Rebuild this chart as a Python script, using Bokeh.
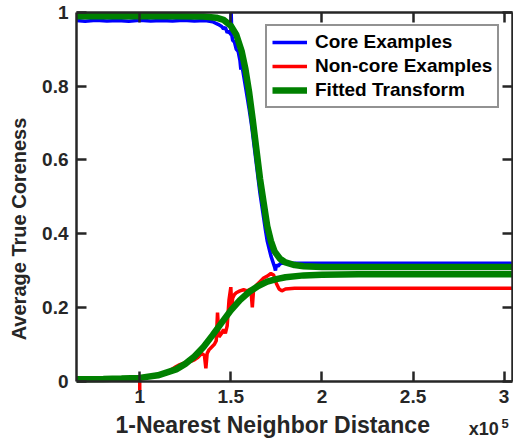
from bokeh.plotting import figure
from bokeh.models import Range1d, FixedTicker, LinearAxis, Legend, LegendItem, Label
from bokeh.embed import file_html
from bokeh.resources import INLINE

# x values are in units of 1e5 (axis shows "x10^5")
x_ticks = [1, 1.5, 2, 2.5, 3]
x_tick_labels = ["1", "1.5", "2", "2.5", "3"]
y_ticks = [0, 0.2, 0.4, 0.6, 0.8, 1]
y_tick_labels = ["0", "0.2", "0.4", "0.6", "0.8", "1"]
x_min, x_max = 0.653, 3.046
y_min, y_max = 0.0, 1.0

core_x = [0.653, 0.70, 0.76, 0.82, 0.88, 0.94, 1.00, 1.06, 1.12, 1.18, 1.24, 1.30, 1.36, 1.40,
          1.43, 1.45, 1.46, 1.47, 1.48, 1.49, 1.50, 1.502, 1.505, 1.51, 1.52, 1.53, 1.54, 1.55,
          1.555, 1.56, 1.57, 1.58, 1.59, 1.60, 1.615, 1.63, 1.645, 1.66, 1.675, 1.69, 1.70, 1.71,
          1.72, 1.73, 1.74, 1.745, 1.75, 1.76, 1.77, 1.78, 1.80, 1.85, 1.90, 2.0, 2.2, 2.5, 2.8, 3.046]
core_y = [0.978, 0.976, 0.979, 0.977, 0.978, 0.976, 0.979, 0.977, 0.978, 0.977, 0.979, 0.977, 0.978, 0.975,
          0.968, 0.962, 0.955, 0.960, 0.945, 0.950, 0.940, 1.000, 0.940, 0.925, 0.920, 0.900, 0.895, 0.870,
          0.845, 0.860, 0.830, 0.800, 0.770, 0.740, 0.690, 0.630, 0.570, 0.510, 0.460, 0.410, 0.380, 0.360,
          0.340, 0.325, 0.310, 0.300, 0.315, 0.312, 0.318, 0.320, 0.320, 0.320, 0.320, 0.320, 0.320, 0.320, 0.320, 0.320]

noncore_x = [1.0, 1.0, 1.003, 1.05, 1.1, 1.15, 1.2, 1.22, 1.25, 1.28, 1.3, 1.32, 1.34, 1.355, 1.363,
             1.37, 1.38, 1.39, 1.41, 1.42, 1.427, 1.435, 1.45, 1.46, 1.47, 1.48, 1.49, 1.5, 1.505,
             1.51, 1.52, 1.53, 1.55, 1.57, 1.59, 1.61, 1.618, 1.625, 1.64, 1.66, 1.68, 1.7, 1.72,
             1.735, 1.75, 1.765, 1.78, 1.8, 1.85, 2.0, 2.5, 3.046]
noncore_y = [-0.025, 0.012, 0.012, 0.013, 0.018, 0.024, 0.040, 0.045, 0.050, 0.054, 0.058, 0.065, 0.075, 0.070, 0.035,
             0.075, 0.085, 0.090, 0.100, 0.110, 0.186, 0.120, 0.130, 0.140, 0.130, 0.150, 0.220, 0.255, 0.200,
             0.225, 0.235, 0.240, 0.245, 0.248, 0.245, 0.250, 0.200, 0.250, 0.260, 0.270, 0.280, 0.285, 0.292,
             0.288, 0.265, 0.250, 0.245, 0.250, 0.252, 0.252, 0.252, 0.252]

fit_core_x = [0.653, 1.2, 1.35, 1.42, 1.46, 1.5, 1.53, 1.56, 1.58, 1.6, 1.62, 1.64, 1.66, 1.68,
              1.7, 1.72, 1.74, 1.77, 1.8, 1.85, 1.9, 2.0, 2.5, 3.046]
fit_core_y = [0.990, 0.990, 0.989, 0.986, 0.980, 0.964, 0.940, 0.894, 0.847, 0.785, 0.710, 0.630, 0.550, 0.485,
              0.420, 0.380, 0.352, 0.332, 0.322, 0.315, 0.312, 0.310, 0.310, 0.310]

fit_noncore_x = [0.653, 0.8, 0.9, 1.0, 1.1, 1.2, 1.25, 1.3, 1.35, 1.4, 1.45, 1.5, 1.55, 1.6, 1.65,
                 1.7, 1.75, 1.8, 1.9, 2.0, 2.2, 3.046]
fit_noncore_y = [0.005, 0.006, 0.007, 0.009, 0.016, 0.032, 0.047, 0.067, 0.093, 0.125, 0.159, 0.192, 0.220, 0.242, 0.258,
                 0.270, 0.277, 0.282, 0.287, 0.289, 0.290, 0.290]

FONT = "Liberation Sans"
AX = "#262626"

# frame reaches the canvas bottom so the x-label texts (drawn in data space) are visible;
# the axes themselves are bounded to the [0, 1] data box
y_view_min = -0.1744

p = figure(width=513, height=445, output_backend="svg", toolbar_location=None,
           x_range=Range1d(x_min, x_max), y_range=Range1d(y_view_min, y_max),
           min_border_left=76, min_border_right=1, min_border_top=12, min_border_bottom=0,
           x_axis_location=None, y_axis_location=None)
p.background_fill_color = "white"
p.border_fill_color = "white"
p.outline_line_color = None
p.xgrid.visible = False
p.ygrid.visible = False


def style_axis(ax, ticks, labels, show_labels):
    ax.ticker = FixedTicker(ticks=ticks)
    ax.major_label_overrides = {t: (l if show_labels else "") for t, l in zip(ticks, labels)}
    ax.axis_line_color = AX
    ax.axis_line_width = 2.5
    ax.major_tick_line_color = AX
    ax.major_tick_line_width = 2.5
    ax.major_tick_in = 10
    ax.major_tick_out = 0
    ax.minor_tick_line_color = None
    ax.major_label_text_font = FONT
    ax.major_label_text_font_style = "bold"
    ax.major_label_text_color = AX
    if show_labels:
        ax.major_label_text_font_size = "19px"
    else:
        ax.major_label_text_font_size = "0px"
        ax.major_label_standoff = 0


xb = LinearAxis(fixed_location=y_min, bounds=(x_min, x_max))
style_axis(xb, x_ticks, x_tick_labels, True)
xb.major_label_standoff = 9
p.add_layout(xb, "below")

xt = LinearAxis(bounds=(x_min, x_max))
style_axis(xt, x_ticks, x_tick_labels, False)
p.add_layout(xt, "above")

yl = LinearAxis(axis_label="Average True Coreness", bounds=(y_min, y_max))
style_axis(yl, y_ticks, y_tick_labels, True)
yl.major_label_standoff = 8
yl.axis_label_text_font = FONT
yl.axis_label_text_font_style = "bold"
yl.axis_label_text_font_size = "20px"
yl.axis_label_text_color = AX
yl.axis_label_standoff = 9
p.add_layout(yl, "left")

yr = LinearAxis(bounds=(y_min, y_max))
style_axis(yr, y_ticks, y_tick_labels, False)
p.add_layout(yr, "right")

r_core = p.line(core_x, core_y, line_color="#0000ff", line_width=3.5)
r_non = p.line(noncore_x, noncore_y, line_color="#ff0000", line_width=3.5)
r_fit1 = p.line(fit_core_x, fit_core_y, line_color="#008000", line_width=6.5)
r_fit2 = p.line(fit_noncore_x, fit_noncore_y, line_color="#008000", line_width=6.5)

legend = Legend(items=[
    LegendItem(label="Core Examples", renderers=[r_core]),
    LegendItem(label="Non-core Examples", renderers=[r_non]),
    LegendItem(label="Fitted Transform", renderers=[r_fit1]),
], location=(189, 337))
legend.label_text_font = FONT
legend.label_text_font_style = "bold"
legend.label_text_font_size = "19px"
legend.label_text_color = "black"
legend.border_line_color = AX
legend.border_line_width = 2
legend.background_fill_color = "white"
legend.background_fill_alpha = 1
legend.padding = 5
legend.spacing = 2
legend.margin = 0
legend.glyph_width = 35
legend.glyph_height = 20
legend.label_height = 20
legend.label_standoff = 8
p.add_layout(legend, "center")

p.add_layout(Label(x=1.73, y=-0.1183, text="1-Nearest Neighbor Distance", text_align="center",
                   text_baseline="alphabetic", text_font=FONT, text_font_style="bold",
                   text_font_size="23px", text_color=AX))
p.add_layout(Label(x=2.806, y=-0.1307, text="x10", text_align="left",
                   text_baseline="alphabetic", text_font=FONT, text_font_style="bold",
                   text_font_size="18px", text_color=AX))
p.add_layout(Label(x=2.985, y=-0.1148, text="5", text_align="left",
                   text_baseline="alphabetic", text_font=FONT, text_font_style="bold",
                   text_font_size="13px", text_color=AX))

open("out.html", "w").write(file_html(p, INLINE))
